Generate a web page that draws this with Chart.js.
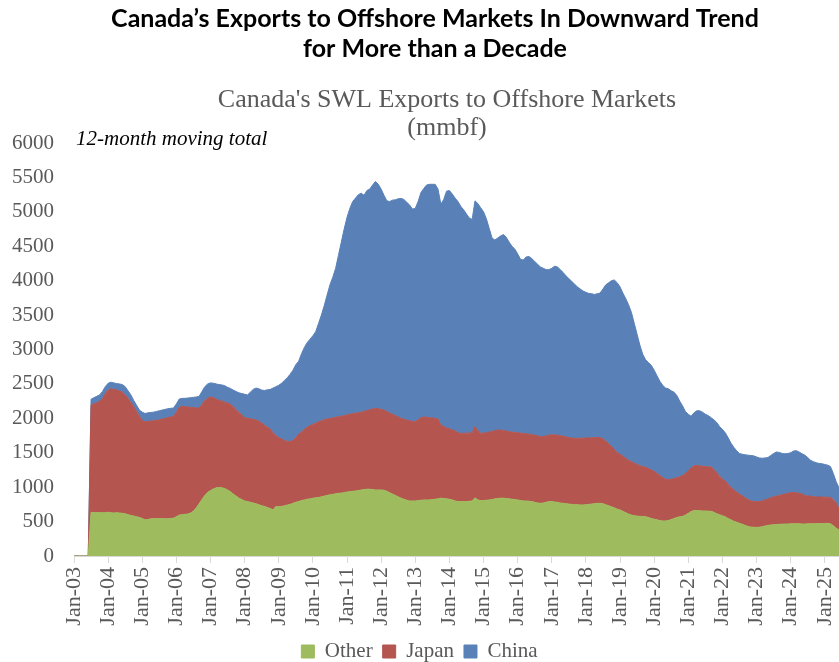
<!DOCTYPE html>
<html>
<head>
<meta charset="utf-8">
<script src="https://cdn.jsdelivr.net/npm/chart.js@4.4.1/dist/chart.umd.min.js"></script>
<style>
  html, body { margin: 0; padding: 0; background: #fff; }
  #wrap { width: 839px; height: 662px; overflow: hidden; }
</style>
</head>
<body>
<div id="wrap"><canvas id="exportsChart" width="839" height="662"></canvas></div>
<script>
// Text
const headline = ['Canada\u2019s Exports to Offshore Markets In Downward Trend', 'for More than a Decade'];
const chartTitle = ["Canada's SWL Exports to Offshore Markets", '(mmbf)'];
const note = '12-month moving total';

// Monthly categories, Jan-03 .. Jun-25
const monthNames = ['Jan', 'Feb', 'Mar', 'Apr', 'May', 'Jun', 'Jul', 'Aug', 'Sep', 'Oct', 'Nov', 'Dec'];
const months = [];
for (let y = 3; y <= 25; y++) {
  for (let m = 0; m < 12; m++) {
    if (y === 25 && m > 5) break;
    months.push(monthNames[m] + '-' + String(y).padStart(2, '0'));
  }
}

// Series values (mmbf, 12-month moving total), one row per year
const other = [
  0, 0, 0, 0, 0, 0, 635, 630, 632, 630, 628, 630,
  635, 630, 625, 630, 625, 620, 615, 600, 590, 580, 570, 560,
  545, 525, 530, 540, 545, 545, 540, 545, 540, 540, 545, 550,
  570, 595, 600, 605, 610, 625, 650, 700, 760, 820, 880, 925,
  950, 975, 990, 995, 990, 980, 960, 935, 900, 870, 840, 820,
  800, 790, 780, 770, 760, 745, 730, 720, 705, 690, 670, 720,
  715, 720, 730, 740, 750, 765, 780, 790, 805, 815, 825, 830,
  840, 845, 850, 860, 870, 880, 890, 895, 905, 910, 915, 920,
  930, 935, 940, 945, 950, 960, 965, 970, 970, 965, 960, 960,
  960, 955, 940, 920, 900, 880, 860, 840, 825, 810, 800, 800,
  800, 805, 810, 815, 815, 815, 820, 825, 830, 840, 835, 830,
  825, 815, 800, 790, 790, 790, 790, 795, 800, 845, 815, 805,
  805, 810, 815, 820, 830, 835, 840, 840, 835, 830, 825, 820,
  815, 805, 800, 800, 795, 790, 780, 770, 765, 770, 780, 790,
  790, 785, 780, 770, 765, 760, 755, 750, 745, 745, 742, 742,
  745, 750, 755, 760, 765, 765, 760, 745, 730, 715, 700, 680,
  670, 650, 630, 610, 595, 585, 580, 575, 575, 570, 560, 545,
  535, 525, 515, 510, 510, 515, 530, 545, 560, 570, 575, 595,
  620, 645, 660, 660, 658, 655, 655, 650, 650, 635, 615, 600,
  585, 570, 545, 525, 505, 490, 475, 460, 445, 430, 420, 418,
  415, 418, 425, 435, 445, 450, 455, 458, 460, 462, 465, 465,
  468, 470, 470, 468, 465, 465, 467, 468, 470, 470, 472, 472,
  472, 474, 470, 440, 405, 375
];

const japan = [
  0, 0, 0, 0, 0, 0, 1560, 1580, 1593, 1615, 1662, 1730,
  1775, 1800, 1795, 1780, 1775, 1760, 1725, 1690, 1640, 1590, 1530, 1470,
  1425, 1425, 1425, 1420, 1420, 1425, 1440, 1445, 1460, 1470, 1475, 1480,
  1520, 1565, 1575, 1565, 1555, 1535, 1505, 1450, 1390, 1380, 1380, 1365,
  1360, 1325, 1290, 1265, 1260, 1255, 1260, 1270, 1270, 1260, 1245, 1230,
  1210, 1210, 1215, 1215, 1215, 1215, 1200, 1180, 1165, 1155, 1120, 1030,
  1005, 980, 950, 925, 910, 915, 940, 980, 995, 1025, 1045, 1065,
  1070, 1085, 1100, 1105, 1110, 1110, 1110, 1110, 1110, 1115, 1115, 1120,
  1120, 1125, 1130, 1130, 1130, 1130, 1135, 1145, 1155, 1170, 1185, 1180,
  1170, 1165, 1160, 1160, 1160, 1160, 1160, 1160, 1160, 1165, 1165, 1155,
  1150, 1175, 1200, 1205, 1200, 1195, 1185, 1175, 1160, 1060, 1045, 1030,
  1025, 1015, 1020, 1000, 990, 995, 995, 990, 990, 1035, 1005, 980,
  980, 980, 985, 990, 990, 995, 990, 985, 980, 975, 975, 975,
  975, 980, 980, 975, 975, 975, 975, 975, 970, 965, 965, 965,
  970, 975, 975, 980, 975, 970, 965, 965, 965, 965, 968, 970,
  970, 965, 963, 960, 957, 955, 940, 925, 900, 875, 850, 820,
  810, 800, 790, 780, 775, 765, 750, 735, 725, 720, 710, 705,
  695, 675, 655, 630, 605, 595, 585, 580, 580, 580, 595, 605,
  620, 635, 650, 655, 652, 650, 645, 645, 645, 625, 595, 560,
  535, 520, 495, 475, 455, 440, 425, 415, 400, 390, 380, 372,
  375, 372, 375, 380, 385, 395, 405, 412, 420, 428, 435, 445,
  452, 455, 450, 442, 435, 415, 403, 402, 390, 388, 386, 385,
  383, 381, 380, 380, 365, 325
];

const china = [
  0, 0, 0, 0, 0, 0, 83, 90, 95, 95, 100, 100,
  100, 95, 95, 95, 100, 110, 120, 110, 110, 90, 90, 90,
  120, 120, 125, 125, 125, 130, 130, 130, 130, 130, 125, 120,
  120, 120, 115, 120, 130, 140, 150, 160, 170, 190, 200, 210,
  205, 210, 220, 230, 235, 240, 230, 230, 240, 260, 285, 310,
  340, 340, 385, 435, 465, 470, 480, 505, 545, 575, 650, 710,
  760, 810, 870, 925, 980, 1020, 1060, 1060, 1140, 1190, 1230, 1255,
  1290, 1330, 1430, 1535, 1660, 1800, 1940, 2045, 2165, 2345, 2530, 2710,
  2870, 2990, 3080, 3125, 3170, 3180, 3140, 3195, 3205, 3255, 3295, 3260,
  3200, 3120, 3060, 3070, 3110, 3135, 3170, 3195, 3195, 3165, 3135, 3085,
  3100, 3170, 3270, 3320, 3375, 3390, 3395, 3400, 3340, 3210, 3300, 3440,
  3460, 3430, 3380, 3360, 3300, 3245, 3185, 3125, 3100, 3280, 3300, 3275,
  3215, 3110, 2960, 2810, 2770, 2790, 2820, 2845, 2815, 2755, 2700, 2665,
  2600, 2525, 2520, 2570, 2580, 2555, 2525, 2495, 2465, 2445, 2415, 2405,
  2420, 2450, 2445, 2410, 2380, 2340, 2310, 2275, 2240, 2200, 2170, 2138,
  2115, 2100, 2092, 2080, 2088, 2100, 2180, 2270, 2340, 2410, 2460, 2470,
  2430, 2370, 2320, 2260, 2170, 2030, 1890, 1750, 1630, 1560, 1540, 1520,
  1470, 1420, 1370, 1340, 1325, 1320, 1285, 1255, 1190, 1100, 1010, 900,
  820, 750, 770, 795, 800, 785, 760, 745, 715, 720, 730, 720,
  720, 700, 680, 640, 620, 600, 590, 603, 625, 645, 660, 665,
  650, 635, 620, 610, 600, 615, 630, 640, 625, 600, 585, 580,
  580, 600, 610, 600, 585, 585, 560, 520, 510, 497, 487, 483,
  475, 465, 450, 380, 310, 290
];

const colOther = '#9EBB5E';
const colJapan = '#B5554F';
const colChina = '#5981B8';
const grey = '#595959';
const serif = '"Liberation Serif", "Times New Roman", serif';

// headline, chart title and note drawn on top of the canvas
const titlePlugin = {
  id: 'titles',
  afterDraw(chart) {
    const ctx = chart.ctx;
    ctx.save();
    ctx.textAlign = 'center';
    ctx.textBaseline = 'middle';
    ctx.fillStyle = '#000';
    ctx.font = 'bold 25px Lato';
    ctx.fillText(headline[0], 435, 19);
    ctx.fillText(headline[1], 435, 49);
    ctx.fillStyle = grey;
    ctx.font = '26px ' + serif;
    ctx.fillText(chartTitle[0], 447, 100);
    ctx.fillText(chartTitle[1], 447, 128);
    ctx.textAlign = 'left';
    ctx.fillStyle = '#000';
    ctx.font = 'italic 21px ' + serif;
    ctx.fillText(note, 76, 139);
    ctx.restore();
  }
};

const ctx = document.getElementById('exportsChart').getContext('2d');

new Chart(ctx, {
  type: 'line',
  data: {
    labels: months,
    datasets: [
      { label: 'Other', data: other, backgroundColor: colOther, borderColor: colOther, fill: 'origin' },
      { label: 'Japan', data: japan, backgroundColor: colJapan, borderColor: colJapan, fill: '-1' },
      { label: 'China', data: china, backgroundColor: colChina, borderColor: colChina, fill: '-1' }
    ]
  },
  options: {
    responsive: false,
    animation: false,
    layout: { padding: { top: 143, right: 0, bottom: -10, left: 0 } },
    elements: {
      point: { radius: 0, hoverRadius: 0 },
      line: { borderWidth: 1, tension: 0 }
    },
    plugins: {
      tooltip: { enabled: false },
      legend: {
        position: 'bottom',
        labels: {
          boxWidth: 13,
          boxHeight: 13,
          padding: 10,
          color: grey,
          font: { family: serif, size: 21 }
        }
      }
    },
    scales: {
      x: {
        offset: false,
        grid: { display: true, drawOnChartArea: false, drawTicks: true, tickLength: 7, color: '#d9d9d9' },
        border: { display: true, color: '#d9d9d9' },
        ticks: {
          autoSkip: false,
          maxRotation: 90,
          minRotation: 90,
          padding: 4,
          color: grey,
          font: { family: serif, size: 22 },
          callback(value) {
            const l = this.getLabelForValue(value);
            return l.startsWith('Jan') ? l : null;
          }
        },
        afterFit(scale) {
          scale.height = 75;
          scale.paddingLeft = 0;
          scale.paddingRight = 0;
        }
      },
      y: {
        stacked: true,
        min: 0,
        max: 6000,
        grid: { display: false, drawTicks: false },
        border: { display: false },
        ticks: {
          stepSize: 500,
          padding: 20,
          color: grey,
          font: { family: serif, size: 21 },
          callback: (v) => String(v)
        },
        afterFit(scale) { scale.width = 74; }
      }
    }
  },
  plugins: [titlePlugin]
});
</script>
</body>
</html>
